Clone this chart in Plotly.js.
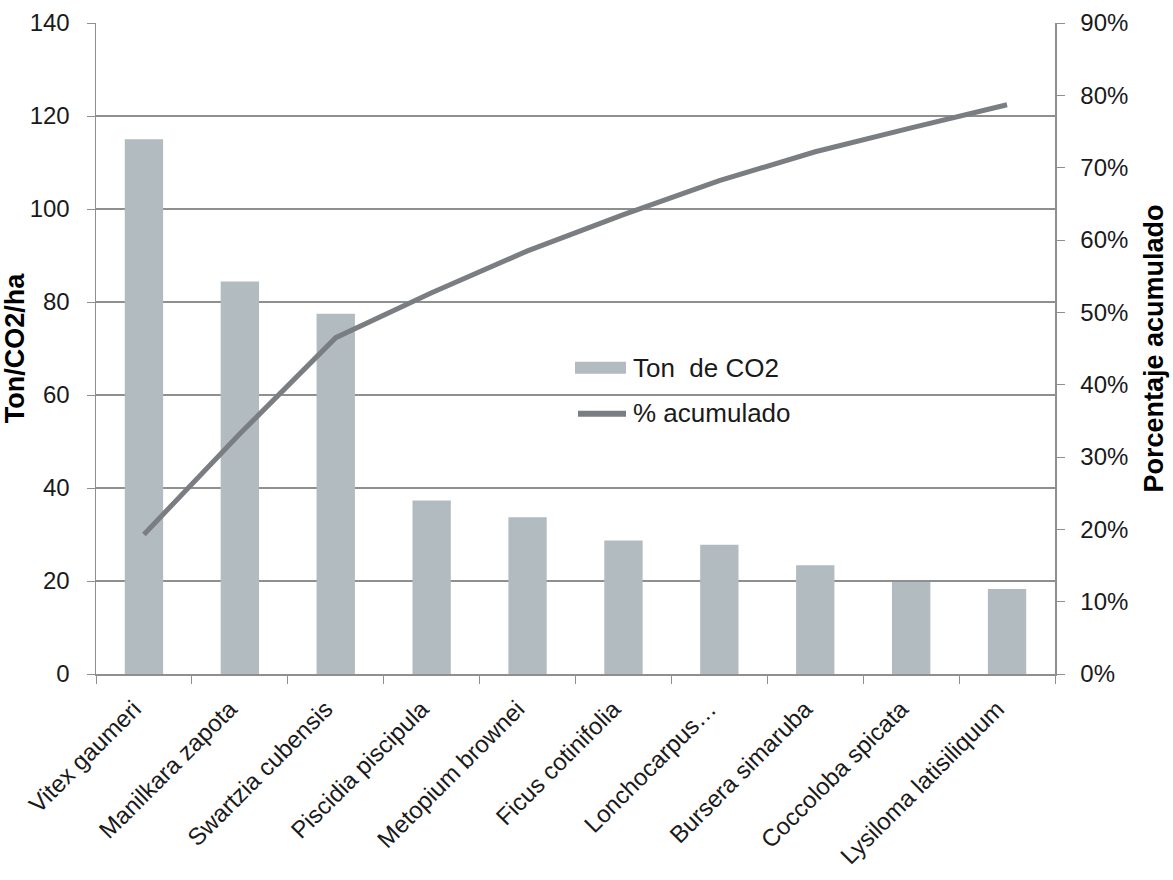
<!DOCTYPE html>
<html>
<head>
<meta charset="utf-8">
<script src="https://cdn.plot.ly/plotly-3.0.1.min.js"></script>
<style>
  html, body { margin: 0; padding: 0; background: #ffffff; }
  #chart { width: 1173px; height: 880px; }
</style>
</head>
<body>
<div id="chart"></div>
<script>
const species = [
  "Vitex gaumeri", "Manilkara zapota", "Swartzia cubensis", "Piscidia piscipula",
  "Metopium brownei", "Ficus cotinifolia", "Lonchocarpus…", "Bursera simaruba",
  "Coccoloba spicata", "Lysiloma latisiliquum"
];
const tonCO2 = [115, 84.4, 77.5, 37.3, 33.7, 28.7, 27.8, 23.4, 19.8, 18.3];
const pctAcumulado = [0.193, 0.332, 0.465, 0.527, 0.585, 0.635, 0.682, 0.722, 0.755, 0.787];
const barName = "Ton  de CO2";
const lineName = "% acumulado";
const yLeftTitle = "Ton/CO2/ha";
const yRightTitle = "Porcentaje acumulado";

const FONT = "Liberation Sans, Arial, sans-serif";
const GRID = "#8f8f8f";
const BAR = "#b2bcc0";
const LINE = "#7a7e83";
const TXT = "#1a1a1a";

const traces = [
  {
    type: "bar", x: species, y: tonCO2, name: barName,
    marker: { color: BAR }, showlegend: false
  },
  {
    type: "scatter", mode: "lines", x: species, y: pctAcumulado, name: lineName,
    yaxis: "y2", line: { color: LINE, width: 5 }, showlegend: false
  }
];

// legend drawn with paper-referenced shapes/annotations
const L = 96, R = 1055, T = 23.3, B = 674.3;
const px = v => (v - L) / (R - L);
const py = v => (B - v) / (B - T);

const layout = {
  width: 1173, height: 880,
  margin: { l: 96, r: 118, t: 23, b: 206 },
  paper_bgcolor: "#ffffff", plot_bgcolor: "#ffffff",
  font: { family: FONT, color: TXT, size: 23 },
  bargap: 0.6,
  showlegend: false,
  xaxis: {
    type: "category", tickangle: -45, ticks: "outside", ticklen: 8, tickcolor: GRID,
    tickson: "boundaries", showline: true, linecolor: GRID, linewidth: 1.5,
    showgrid: false, tickfont: { size: 24, family: FONT, color: TXT },
    ticklabelstandoff: 10, ticklabelshift: -10
  },
  yaxis: {
    range: [0, 140], dtick: 20, ticks: "outside", ticklen: 8, tickcolor: GRID,
    showline: true, linecolor: GRID, linewidth: 1.5, showgrid: true, gridcolor: GRID,
    gridwidth: 1.5, zeroline: false, tickfont: { size: 24, family: FONT, color: TXT },
    ticklabelstandoff: 12,
    title: { text: "<b>" + yLeftTitle + "</b>", font: { size: 27, family: FONT, color: "#000" }, standoff: 2 }
  },
  yaxis2: {
    overlaying: "y", side: "right", range: [0, 0.9], dtick: 0.1, tickformat: ".0%",
    ticks: "outside", ticklen: 8, tickcolor: GRID, showline: true, linecolor: GRID,
    linewidth: 1.5, showgrid: false, zeroline: false,
    tickfont: { size: 24, family: FONT, color: TXT }, ticklabelstandoff: 11,
    title: { text: "<b>" + yRightTitle + "</b>", font: { size: 27, family: FONT, color: "#000" }, standoff: 17 }
  },
  shapes: [
    { type: "rect", xref: "paper", yref: "paper", x0: px(575), x1: px(626), y0: py(374), y1: py(362),
      fillcolor: BAR, line: { width: 0 } },
    { type: "line", xref: "paper", yref: "paper", x0: px(578), x1: px(626), y0: py(414), y1: py(414),
      line: { color: LINE, width: 6 } }
  ],
  annotations: [
    { xref: "paper", yref: "paper", x: px(631), y: py(368), xanchor: "left", yanchor: "middle",
      text: barName, showarrow: false, font: { size: 26, family: FONT, color: TXT } },
    { xref: "paper", yref: "paper", x: px(631), y: py(413), xanchor: "left", yanchor: "middle",
      text: lineName, showarrow: false, font: { size: 26, family: FONT, color: TXT } }
  ]
};

Plotly.newPlot("chart", traces, layout, { displayModeBar: false, staticPlot: true });
</script>
</body>
</html>
